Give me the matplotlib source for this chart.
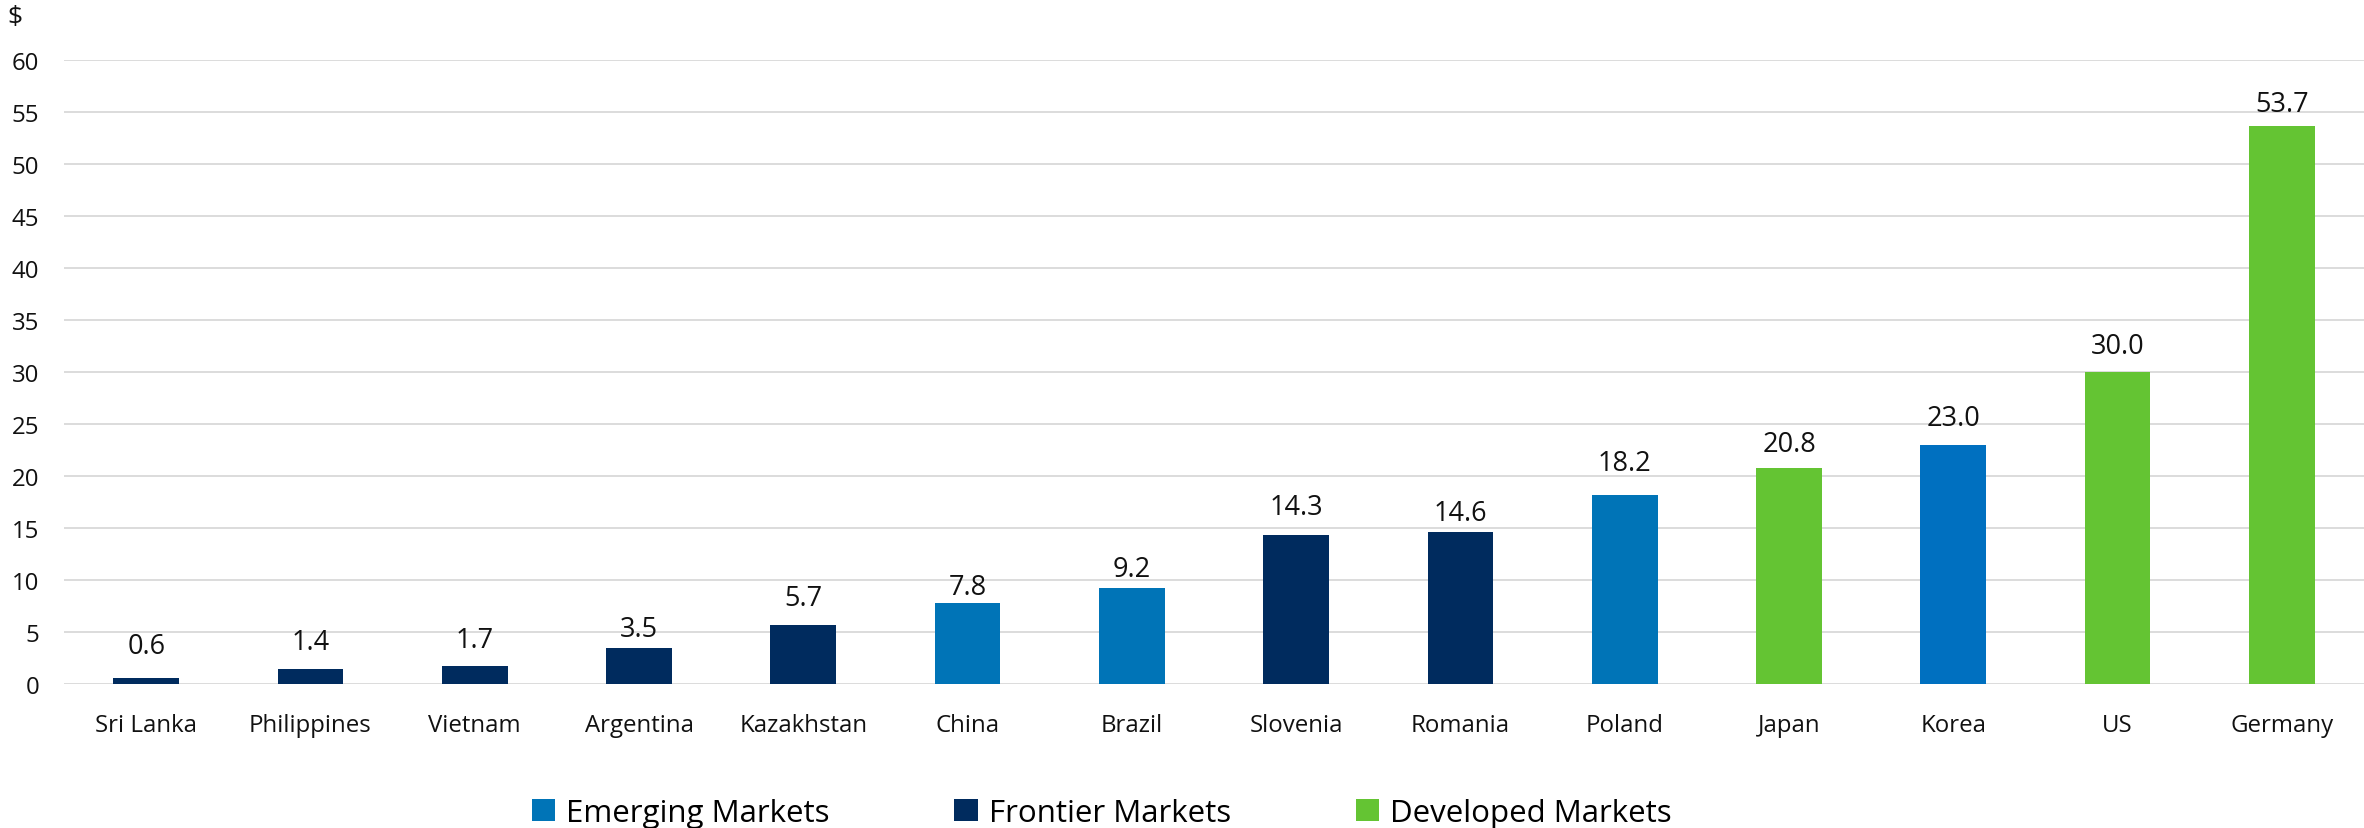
import matplotlib

matplotlib.use("Agg")
import matplotlib.pyplot as plt
from matplotlib.patches import Patch

plt.rcParams["font.family"] = ["Open Sans", "Noto Sans", "DejaVu Sans"]

# -- Data ------------------------------------------------------------------
countries = [
    "Sri Lanka", "Philippines", "Vietnam", "Argentina", "Kazakhstan", "China", "Brazil",
    "Slovenia", "Romania", "Poland", "Japan", "Korea", "US", "Germany",
]
values = [0.6, 1.4, 1.7, 3.5, 5.7, 7.8, 9.2, 14.3, 14.6, 18.2, 20.8, 23.0, 30.0, 53.7]
groups = [
    "Frontier", "Frontier", "Frontier", "Frontier", "Frontier", "Emerging", "Emerging",
    "Frontier", "Frontier", "Emerging", "Developed", "Emerging", "Developed", "Developed",
]
y_ticks = [0, 5, 10, 15, 20, 25, 30, 35, 40, 45, 50, 55, 60]

# -- Style -----------------------------------------------------------------
GROUP_COLORS = {"Emerging": "#0074B7", "Frontier": "#002B5E", "Developed": "#64C433"}
COLOR_OVERRIDE = {"Korea": "#0070C0"}
LEGEND_ORDER = [("Emerging", "Emerging Markets"), ("Frontier", "Frontier Markets"),
                ("Developed", "Developed Markets")]
# gap (px) between bar top and label baseline, as placed in the original
LABEL_GAP_PX = [25, 20, 19, 12, 20, 9, 12, 21, 12, 25, 17, 20, 19, 15]

# -- Figure ----------------------------------------------------------------
fig = plt.figure(figsize=(23.64, 8.29), dpi=100)
ax = fig.add_axes([0.0271, 0.1737, 0.9729, 0.7523])

colors = [COLOR_OVERRIDE.get(c, GROUP_COLORS[g]) for c, g in zip(countries, groups)]
x = range(len(countries))
bars = ax.bar(x, values, width=0.4, color=colors, zorder=3)

for rect, v, gap in zip(bars, values, LABEL_GAP_PX):
    ax.annotate(f"{v:.1f}", (rect.get_x() + rect.get_width() / 2, v),
                xytext=(0, gap * 0.72), textcoords="offset points",
                ha="center", va="baseline", fontsize=19.5, color="#111111")

ax.set_xlim(-0.5, len(countries) - 0.5)
ax.set_ylim(0, 60)
ax.set_yticks(y_ticks)
ax.set_xticks(list(x))
ax.set_xticklabels(countries)
ax.tick_params(axis="both", length=0, labelsize=17.3, colors="#111111")
ax.tick_params(axis="x", pad=21)
ax.tick_params(axis="y", pad=18)

ax.grid(axis="y", color="#D9D9D9", linewidth=1.3, zorder=0)
for s in ax.spines.values():
    s.set_visible(False)

fig.text(0.003, 0.979, "$", fontsize=19, ha="left", va="center", color="#111111")

handles = [Patch(facecolor=GROUP_COLORS[g], label=lab) for g, lab in LEGEND_ORDER]
fig.legend(handles=handles, loc="center", bbox_to_anchor=(0.466, 0.018), ncol=3,
           frameon=False, fontsize=22.5, handlelength=0.74, handleheight=0.7,
           handletextpad=0.35, columnspacing=4.0)

fig.savefig("out.png", dpi=100)
plt.close(fig)
